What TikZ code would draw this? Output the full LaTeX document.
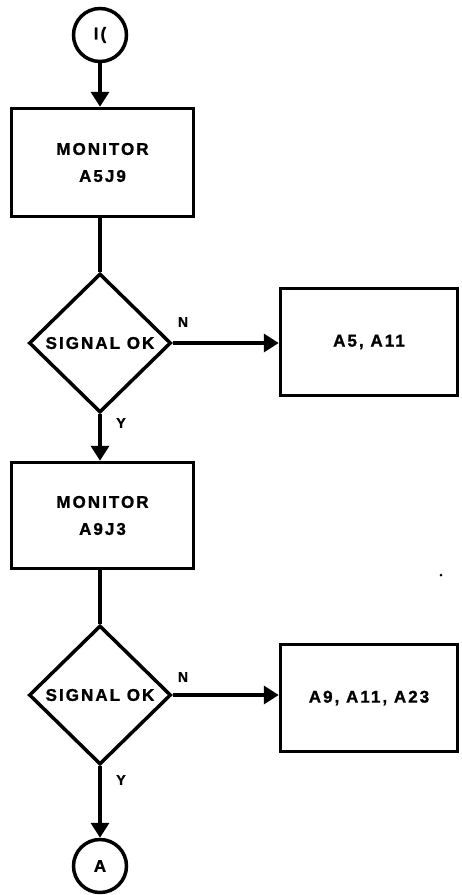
\documentclass[tikz,border=0pt]{standalone}
\usepackage{fontspec}
\newfontfamily\lbl{Liberation Sans}[LetterSpace=12, FakeBold=1.2]
\usetikzlibrary{shapes.geometric,arrows.meta}
\tikzset{
  base/.style={draw=black, line width=3.5pt, font=\lbl\bfseries\fontsize{17}{20}\selectfont, inner sep=0pt, align=center},
  conn/.style={circle, base, minimum size=53pt},
  procbox/.style={rectangle, base},
  decide/.style={diamond, base, minimum width=142pt, minimum height=139pt},
  flow/.style={line width=3.5pt, -{Triangle[length=15pt,width=18pt]}},
  plain/.style={line width=3.5pt},
  tag/.style={font=\lbl\bfseries\fontsize{14}{16}\selectfont, inner sep=0pt}
}
\begin{document}
\begin{tikzpicture}[x=1pt,y=-1pt]
\useasboundingbox (0,0) rectangle (461,895);
\node[conn] (start) at (100,35) {I(};
\node[procbox, minimum width=182pt, minimum height=108pt] (m1) at (102.5,162.5) {MONITOR\\[7pt]A5J9};
\node[decide] (d1) at (100,343) {SIGNAL OK};
\node[procbox, minimum width=177pt, minimum height=107pt] (r1) at (369,342) {A5, A11};
\node[procbox, minimum width=182pt, minimum height=106pt] (m2) at (102.5,515.5) {MONITOR\\[7pt]A9J3};
\node[decide] (d2) at (100,695) {SIGNAL OK};
\node[procbox, minimum width=177pt, minimum height=107pt] (r2) at (369,698) {A9, A11, A23};
\node[conn] (endA) at (100,866) {A};
\draw[flow] (start) -- (m1.north -| start);
\draw[plain] (m1.south -| d1.north) -- (d1.north);
\draw[flow] (d1.east) -- (r1.west |- d1.east);
\draw[flow] (d1.south) -- (m2.north -| d1.south);
\draw[plain] (m2.south -| d2.north) -- (d2.north);
\draw[flow] (d2.east) -- (r2.west |- d2.east);
\draw[flow] (d2.south) -- (endA.north -| d2.south);
\node[tag] (n1) at (183,322) {N};
\node[tag] (y1) at (121,423) {Y};
\node[tag] (n2) at (183,677) {N};
\node[tag] (y2) at (121,780) {Y};
\fill (441,575) circle (1.5pt);
\end{tikzpicture}
\end{document}
